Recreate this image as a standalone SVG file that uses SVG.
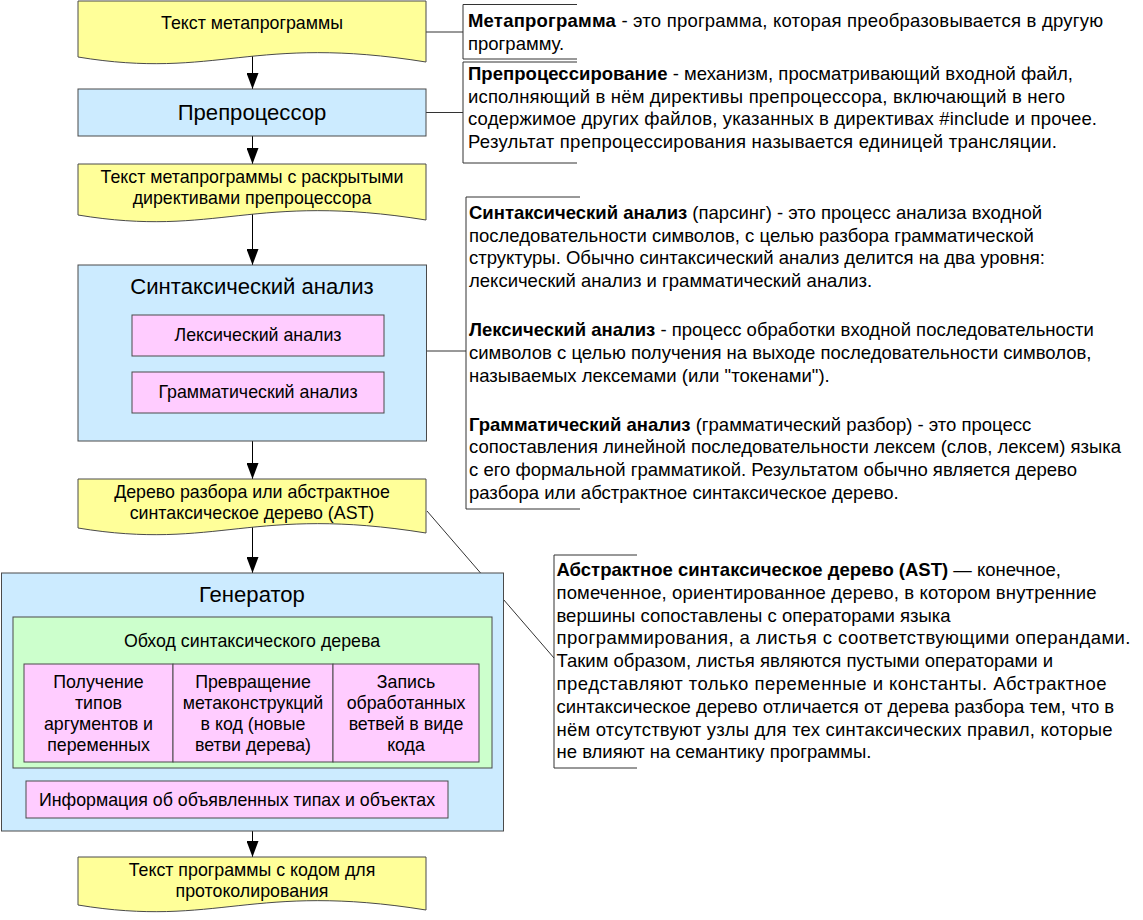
<svg xmlns="http://www.w3.org/2000/svg" width="1143" height="920" viewBox="0 0 1143 920">
<defs>
<style>
text{font-family:"Liberation Sans",Arial,sans-serif;fill:#000}
.doc{fill:#FFFF99;stroke:#4a4a4a;stroke-width:1}
.blue{fill:#CCEBFF;stroke:#4a4a4a;stroke-width:1}
.pink{fill:#FFCCFF;stroke:#4a4a4a;stroke-width:1}
.green{fill:#CCFFCC;stroke:#4a4a4a;stroke-width:1}
.c16{font-size:17.8px;text-anchor:middle}
.c20{font-size:22.1px;text-anchor:middle}
.ann{font-size:18.5px}
.ann tspan.b{font-weight:bold}
.brk{fill:none;stroke:#333;stroke-width:1}
.arr{fill:none;stroke:#000;stroke-width:1}
</style>
<marker id="ah" viewBox="0 0 16 12" refX="16" refY="6" markerWidth="16" markerHeight="12" markerUnits="userSpaceOnUse" orient="auto-start-reverse">
<path d="M0,0 L16,6 L0,12 Z" fill="#000"/>
</marker>
<marker id="sh" viewBox="0 0 10 8" refX="10" refY="4" markerWidth="10" markerHeight="8" markerUnits="userSpaceOnUse" orient="auto-start-reverse">
<path d="M0,0 L10,4 L0,8 Z" fill="#000"/>
</marker>
</defs>

<g id="connectors">
<line class="arr" x1="252.5" y1="56" x2="252.5" y2="89" marker-end="url(#ah)"/>
<line class="arr" x1="252.5" y1="136" x2="252.5" y2="164" marker-end="url(#ah)"/>
<line class="arr" x1="252.5" y1="213" x2="252.5" y2="265" marker-end="url(#ah)"/>
<line class="arr" x1="252.5" y1="441" x2="252.5" y2="479" marker-end="url(#ah)"/>
<line class="arr" x1="252.5" y1="527" x2="252.5" y2="573" marker-end="url(#ah)"/>
<line class="arr" x1="252.5" y1="831" x2="252.5" y2="857" marker-end="url(#ah)"/>
<line class="arr" x1="48" y1="762" x2="48" y2="781" marker-start="url(#sh)" marker-end="url(#sh)"/>
<line class="arr" x1="198" y1="762" x2="198" y2="781" marker-start="url(#sh)" marker-end="url(#sh)"/>
<line class="brk" x1="426" y1="32" x2="463" y2="32"/>
<line class="brk" x1="426" y1="112.5" x2="463" y2="112.5"/>
<line class="brk" x1="427" y1="351" x2="466" y2="351"/>
<line class="brk" x1="427" y1="511" x2="554" y2="658"/>
</g>

<g id="doc-meta">
<path class="doc" d="M78,1 H426 V62 C252,34 217,80 78,57 Z"/>
<text class="c16" x="252" y="29">Текст метапрограммы</text>
</g>

<g id="preprocessor">
<rect class="blue" x="78" y="89" width="348" height="47"/>
<text class="c20" x="252" y="120">Препроцессор</text>
</g>

<g id="doc-expanded">
<path class="doc" d="M78,164 H426 V220 C252,192 217,238 78,215 Z"/>
<text class="c16" x="252" y="183">Текст метапрограммы с раскрытыми</text>
<text class="c16" x="252" y="204">директивами препроцессора</text>
</g>

<g id="syntax">
<rect class="blue" x="78" y="265" width="348.5" height="176"/>
<text class="c20" x="252" y="294">Синтаксический анализ</text>
</g>
<g id="lexical">
<rect class="pink" x="132" y="315" width="252" height="41"/>
<text class="c16" x="258" y="341">Лексический анализ</text>
</g>
<g id="grammar">
<rect class="pink" x="132" y="372" width="252" height="41"/>
<text class="c16" x="258" y="398">Грамматический анализ</text>
</g>

<g id="doc-ast">
<path class="doc" d="M78,479 H426 V533 C252,505 217,551 78,528 Z"/>
<text class="c16" x="252" y="498">Дерево разбора или абстрактное</text>
<text class="c16" x="252" y="519">синтаксическое дерево (AST)</text>
</g>

<g id="generator">
<rect class="blue" x="1.5" y="573" width="502" height="258"/>
<text class="c20" x="252" y="602">Генератор</text>
</g>
<g id="traverse">
<rect class="green" x="13" y="617" width="479" height="151"/>
<text class="c16" x="252" y="647">Обход синтаксического дерева</text>
</g>
<g id="get-types">
<rect class="pink" x="24" y="664" width="149" height="98"/>
<text class="c16" x="98.5" y="688">Получение</text>
<text class="c16" x="98.5" y="709">типов</text>
<text class="c16" x="98.5" y="730">аргументов и</text>
<text class="c16" x="98.5" y="751">переменных</text>
</g>
<g id="transform">
<rect class="pink" x="173" y="664" width="160" height="98"/>
<text class="c16" x="253" y="688">Превращение</text>
<text class="c16" x="253" y="709">метаконструкций</text>
<text class="c16" x="253" y="730">в код (новые</text>
<text class="c16" x="253" y="751">ветви дерева)</text>
</g>
<g id="write">
<rect class="pink" x="333" y="664" width="146" height="98"/>
<text class="c16" x="406" y="688">Запись</text>
<text class="c16" x="406" y="709">обработанных</text>
<text class="c16" x="406" y="730">ветвей в виде</text>
<text class="c16" x="406" y="751">кода</text>
</g>
<g id="info">
<rect class="pink" x="26" y="781" width="422" height="37"/>
<text class="c16" x="237" y="806">Информация об объявленных типах и объектах</text>
</g>

<g id="doc-output">
<path class="doc" d="M78,857 H426 V910 C252,882 217,928 78,905 Z"/>
<text class="c16" x="252" y="876">Текст программы с кодом для</text>
<text class="c16" x="252" y="897">протоколирования</text>
</g>

<g id="note-meta">
<path class="brk" d="M577,4.5 H463 V59 H577"/>
<text class="ann" x="468" y="27" textLength="635" lengthAdjust="spacing"><tspan class="b">Метапрограмма</tspan> - это программа, которая преобразовывается в другую</text>
<text class="ann" x="468" y="50">программу.</text>
</g>

<g id="note-preproc">
<path class="brk" d="M577,62 H463 V163 H577"/>
<text class="ann" x="468" y="80" textLength="605" lengthAdjust="spacing"><tspan class="b">Препроцессирование</tspan> - механизм, просматривающий входной файл,</text>
<text class="ann" x="468" y="103" textLength="597" lengthAdjust="spacing">исполняющий в нём директивы препроцессора, включающий в него</text>
<text class="ann" x="468" y="125" textLength="629" lengthAdjust="spacing">содержимое других файлов, указанных в директивах #include и прочее.</text>
<text class="ann" x="468" y="148" textLength="589" lengthAdjust="spacing">Результат препроцессирования называется единицей трансляции.</text>
</g>

<g id="note-syntax">
<path class="brk" d="M580,197 H466 V509 H580"/>
<text class="ann" x="469" y="219"><tspan class="b">Синтаксический анализ</tspan> (парсинг) - это процесс анализа входной</text>
<text class="ann" x="469" y="242">последовательности символов, с целью разбора грамматической</text>
<text class="ann" x="469" y="264">структуры. Обычно синтаксический анализ делится на два уровня:</text>
<text class="ann" x="469" y="287">лексический анализ и грамматический анализ.</text>
<text class="ann" x="469" y="336"><tspan class="b">Лексический анализ</tspan> - процесс обработки входной последовательности</text>
<text class="ann" x="469" y="359">символов с целью получения на выходе последовательности символов,</text>
<text class="ann" x="469" y="382">называемых лексемами (или "токенами").</text>
<text class="ann" x="469" y="431"><tspan class="b">Грамматический анализ</tspan> (грамматический разбор) - это процесс</text>
<text class="ann" x="469" y="453">сопоставления линейной последовательности лексем (слов, лексем) языка</text>
<text class="ann" x="469" y="476">с его формальной грамматикой. Результатом обычно является дерево</text>
<text class="ann" x="469" y="499">разбора или абстрактное синтаксическое дерево.</text>
</g>

<g id="note-ast">
<path class="brk" d="M637,555 H554 V768 H637"/>
<text class="ann" x="556.5" y="576"><tspan class="b">Абстрактное синтаксическое дерево (AST)</tspan> — конечное,</text>
<text class="ann" x="556.5" y="599" textLength="540" lengthAdjust="spacing">помеченное, ориентированное дерево, в котором внутренние</text>
<text class="ann" x="556.5" y="622">вершины сопоставлены с операторами языка</text>
<text class="ann" x="556.5" y="644" textLength="574" lengthAdjust="spacing">программирования, а листья с соответствующими операндами.</text>
<text class="ann" x="556.5" y="667">Таким образом, листья являются пустыми операторами и</text>
<text class="ann" x="556.5" y="690" textLength="550" lengthAdjust="spacing">представляют только переменные и константы. Абстрактное</text>
<text class="ann" x="556.5" y="713">синтаксическое дерево отличается от дерева разбора тем, что в</text>
<text class="ann" x="556.5" y="736" textLength="556" lengthAdjust="spacing">нём отсутствуют узлы для тех синтаксических правил, которые</text>
<text class="ann" x="556.5" y="758">не влияют на семантику программы.</text>
</g>
</svg>
